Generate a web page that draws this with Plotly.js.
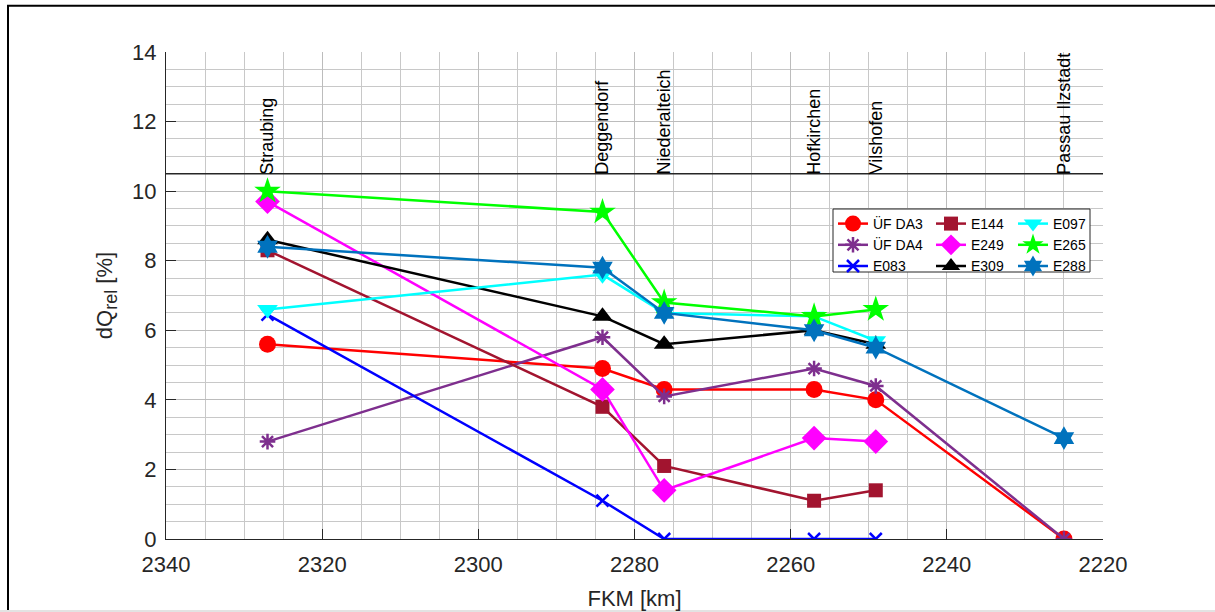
<!DOCTYPE html>
<html>
<head>
<meta charset="utf-8">
<script src="https://cdn.plot.ly/plotly-3.0.1.min.js"></script>
<style>
  html, body { margin: 0; padding: 0; background: #ffffff; }
  #chart { width: 1215px; height: 612px; }
</style>
</head>
<body>
<div id="chart"></div>
<script>
// ---- data ----
const stationNames = ['Straubing', 'Deggendorf', 'Niederalteich', 'Hofkirchen', 'Vilshofen', 'Passau Ilzstadt'];
const stationKm = [2327.0, 2284.1, 2276.2, 2257.0, 2249.1, 2225.0];

const seriesNames = ['ÜF DA3', 'ÜF DA4', 'E083', 'E144', 'E249', 'E309', 'E097', 'E265', 'E288'];
const dqDA3 = [5.6, 4.9, 4.3, 4.3, 4.0, 0.0];
const dqDA4 = [2.8, 5.8, 4.1, 4.9, 4.4, 0.0];
const dqE083 = [6.45, 1.1, 0.0, 0.0, 0.0, null];
const dqE144 = [8.3, 3.8, 2.1, 1.1, 1.4, null];
const dqE249 = [9.7, 4.3, 1.4, 2.9, 2.8, null];
const dqE309 = [8.6, 6.4, 5.6, 6.0, 5.6, null];
const dqE097 = [6.6, 7.6, 6.5, 6.4, 5.7, null];
const dqE265 = [10.0, 9.4, 6.8, 6.4, 6.6, null];
const dqE288 = [8.4, 7.8, 6.5, 6.0, 5.5, 2.9];

const separatorLevel = 10.5;

// ---- styles ----
const styles = [
  {y: dqDA3,  color: '#FF0000', symbol: 'circle',        size: 17, legend: 'legend',  rank: 1},
  {y: dqDA4,  color: '#7E2F8E', symbol: 'asterisk-open', size: 13, legend: 'legend',  rank: 2},
  {y: dqE083, color: '#0000FF', symbol: 'x-thin-open',   size: 12, legend: 'legend',  rank: 3},
  {y: dqE144, color: '#A2142F', symbol: 'square',        size: 14, legend: 'legend2', rank: 4},
  {y: dqE249, color: '#FF00FF', symbol: 'diamond',       size: 19, legend: 'legend2', rank: 5},
  {y: dqE309, color: '#000000', symbol: 'triangle-up',   size: 18, legend: 'legend2', rank: 6},
  {y: dqE097, color: '#00FFFF', symbol: 'triangle-down', size: 18, legend: 'legend3', rank: 7},
  {y: dqE265, color: '#00FF00', symbol: 'star',          size: 20, legend: 'legend3', rank: 8},
  {y: dqE288, color: '#0072BD', symbol: 'hexagram',      size: 18, legend: 'legend3', rank: 9}
];

const traces = styles.map((s, i) => ({
  type: 'scatter',
  mode: 'lines+markers',
  name: seriesNames[i],
  x: stationKm,
  y: s.y,
  legend: s.legend,
  legendrank: s.rank,
  line: {color: s.color, width: 2.5},
  marker: {
    symbol: s.symbol,
    size: s.size,
    color: s.color,
    line: {color: s.color, width: (s.symbol.indexOf('open') >= 0 ? 2.5 : 0)}
  }
}));

// plot area in pixels
const L = 166, R = 1103, T = 52, B = 539, W = 1215, H = 612;
const pw = R - L, ph = B - T;
const px = v => (v - L) / pw;
const py = v => (B - v) / ph;

const stationAnnotations = stationNames.map((n, i) => ({
  x: stationKm[i], y: separatorLevel, xref: 'x', yref: 'y',
  text: n, textangle: -90, showarrow: false,
  xanchor: 'center', yanchor: 'bottom', yshift: -3,
  font: {family: 'Liberation Sans, Arial, sans-serif', size: 18, color: '#000000'}
}));

const legendFont = {family: 'Liberation Sans, Arial, sans-serif', size: 14, color: '#000000'};
const legendTop = py(208);
function mkLegend(xpix) {
  return {
    x: px(xpix), y: legendTop, xanchor: 'left', yanchor: 'top',
    xref: 'paper', yref: 'paper',
    bgcolor: 'rgba(0,0,0,0)', borderwidth: 0,
    font: legendFont, tracegroupgap: 0, itemwidth: 30,
    orientation: 'v'
  };
}

const axisFont = {family: 'Liberation Sans, Arial, sans-serif', size: 22, color: '#262626'};

const layout = {
  width: W, height: H,
  margin: {l: L, r: W - R, t: T, b: H - B, pad: 0},
  paper_bgcolor: '#ffffff', plot_bgcolor: '#ffffff',
  font: {family: 'Liberation Sans, Arial, sans-serif', color: '#262626'},
  showlegend: true,
  legend: mkLegend(833),
  legend2: mkLegend(931),
  legend3: mkLegend(1013),
  xaxis: {
    range: [2340, 2220], autorange: false,
    dtick: 20, tick0: 2220,
    ticks: 'inside', ticklen: 10, tickwidth: 1, tickcolor: '#262626',
    ticklabelstandoff: 6,
    showline: true, linecolor: '#262626', linewidth: 1, mirror: false,
    showgrid: true, gridcolor: '#bcbcbc', gridwidth: 1,
    zeroline: false,
    minor: {dtick: 5, tick0: 2220, showgrid: true, gridcolor: '#c8c8c8', gridwidth: 1, ticks: ''},
    tickfont: axisFont,
    title: {text: 'FKM [km]', font: axisFont, standoff: 14}
  },
  yaxis: {
    range: [0, 14], autorange: false,
    dtick: 2, tick0: 0,
    ticks: 'inside', ticklen: 10, tickwidth: 1, tickcolor: '#262626',
    ticklabelstandoff: 4,
    showline: true, linecolor: '#262626', linewidth: 1, mirror: false,
    showgrid: true, gridcolor: '#bcbcbc', gridwidth: 1,
    zeroline: false,
    minor: {dtick: 0.5, tick0: 0, showgrid: true, gridcolor: '#c8c8c8', gridwidth: 1, ticks: ''},
    tickfont: axisFont,
    title: {text: 'dQ<sub><span style="font-size:18px">rel</span></sub> [%]', font: axisFont, standoff: 13}
  },
  shapes: [
    // separator line below station names
    {type: 'line', xref: 'paper', yref: 'y', x0: 0, x1: 1, y0: separatorLevel, y1: separatorLevel,
     line: {color: '#262626', width: 1.3}, layer: 'above'},
    // legend box
    {type: 'rect', xref: 'paper', yref: 'paper', x0: px(833), x1: px(1090), y0: py(272), y1: py(209),
     fillcolor: '#ffffff', line: {color: '#262626', width: 1}, layer: 'above'},
    // figure frame
    {type: 'rect', xref: 'paper', yref: 'paper', x0: px(8), x1: px(1240), y0: py(640), y1: py(5.7),
     line: {color: '#000000', width: 2}, layer: 'below'},
    // bottom gray strip
    {type: 'rect', xref: 'paper', yref: 'paper', x0: px(-5), x1: px(1240), y0: py(640), y1: py(610),
     fillcolor: '#e3e3e3', line: {width: 0}, layer: 'above'}
  ],
  annotations: stationAnnotations
};

Plotly.newPlot('chart', traces, layout, {displayModeBar: false, staticPlot: true});
</script>
</body>
</html>
